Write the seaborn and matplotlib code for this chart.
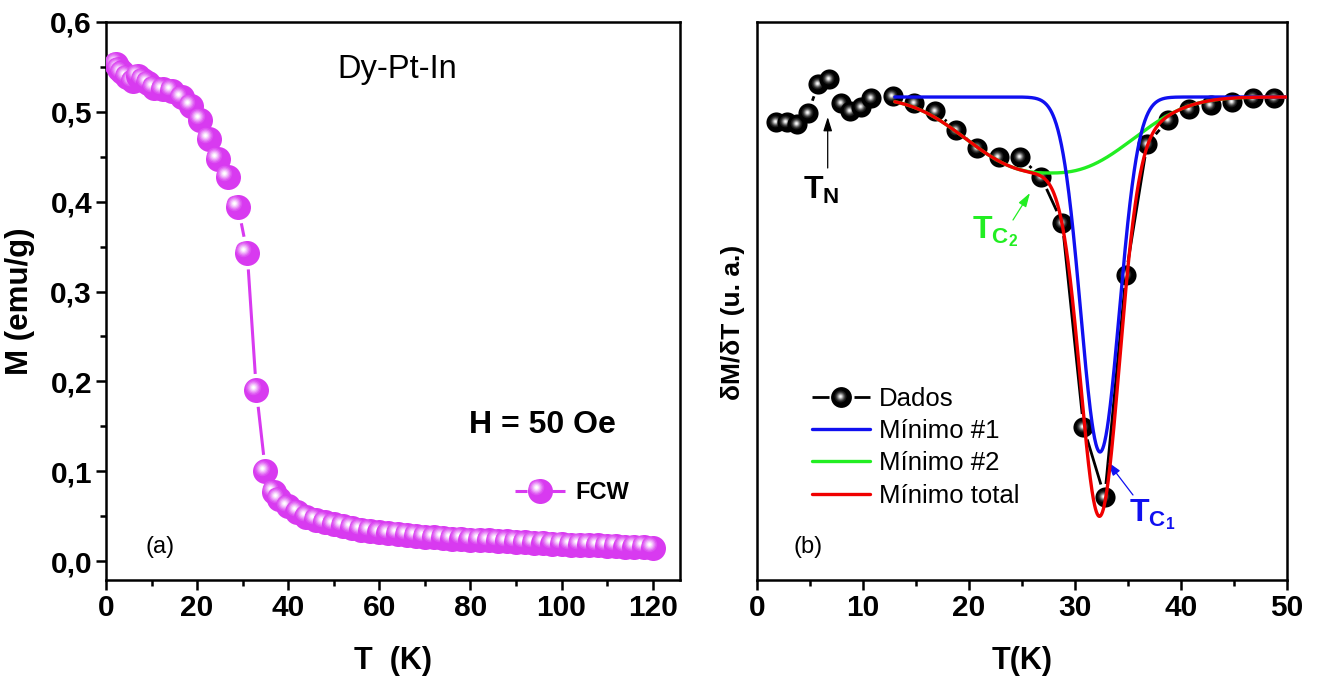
import numpy as np
import matplotlib
matplotlib.use("Agg")
import matplotlib.pyplot as plt
import matplotlib.transforms as mtransforms
from matplotlib.lines import Line2D
from matplotlib.legend_handler import HandlerBase
from matplotlib.ticker import MultipleLocator, FuncFormatter, NullLocator
import seaborn as sns

# ---------------------------------------------------------------- data
# (a) field-cooled-warming magnetisation, H = 50 Oe
T_fcw = [2.3, 2.8, 3.5, 4.5, 5.9, 7.0, 8.1, 9.2, 10.5, 12.5, 14.5, 16.6, 18.6,
         20.7, 22.6, 24.6, 26.7, 29.0, 31.0, 33.0, 35.0, 36.8, 38, 40, 42, 44,
         46, 48, 50, 52, 54, 56, 58, 60, 62, 64, 66, 68, 70, 72, 74, 76, 78,
         80, 82, 84, 86, 88, 90, 92, 94, 96, 98, 100, 102, 104, 106, 108, 110,
         112, 114, 116, 118, 120]
M_fcw = [0.553, 0.548, 0.544, 0.539, 0.534, 0.540, 0.536, 0.532, 0.527, 0.525,
         0.523, 0.516, 0.507, 0.491, 0.470, 0.448, 0.428, 0.394, 0.343, 0.190,
         0.100, 0.077, 0.069, 0.061, 0.055, 0.049, 0.046, 0.043, 0.041, 0.039,
         0.037, 0.035, 0.0335, 0.032, 0.031, 0.030, 0.029, 0.028, 0.027,
         0.0265, 0.026, 0.025, 0.0245, 0.024, 0.0235, 0.023, 0.0225, 0.022,
         0.0215, 0.021, 0.0205, 0.020, 0.0195, 0.019, 0.0185, 0.018, 0.0178,
         0.0175, 0.017, 0.0166, 0.0162, 0.016, 0.0155, 0.0145]

# (b) derivative dM/dT (arbitrary units)
T_der = [1.8, 2.8, 3.8, 4.8, 5.8, 6.8, 7.9, 8.8, 9.8, 10.8, 12.8, 14.8, 16.8,
         18.8, 20.8, 22.8, 24.8, 26.8, 28.8, 30.8, 32.8, 34.8, 36.8, 38.8,
         40.8, 42.8, 44.8, 46.8, 48.8]
dMdT = [-0.25, -0.25, -0.27, -0.16, 0.13, 0.18, -0.06, -0.14, -0.10, -0.01,
        0.01, -0.06, -0.14, -0.33, -0.51, -0.60, -0.60, -0.80, -1.26, -3.30,
        -4.00, -1.78, -0.47, -0.23, -0.12, -0.08, -0.05, -0.01, -0.01]

# two-minimum fit: Gaussian (#1) + broad minimum (#2)
fit_range = (13.0, 50.0)
base_level = 0.0
min1 = dict(depth=3.55, centre=32.36, sigma=1.82)
min2 = dict(depth=0.76, centre=27.6, width=9.7, power=2.5)

# ---------------------------------------------------------------- style
sns.set_theme(style="ticks")
plt.rcParams.update({
    "font.family": ["Liberation Sans", "DejaVu Sans"],
    "font.weight": "bold",
    "mathtext.fontset": "custom",
    "mathtext.rm": "Liberation Sans",
    "mathtext.it": "Liberation Sans:italic",
    "mathtext.bf": "Liberation Sans:bold",
    "axes.edgecolor": "black",
    "axes.linewidth": 1.8,
    "xtick.color": "black",
    "ytick.color": "black",
    "text.color": "black",
    "axes.labelcolor": "black",
})

MAGENTA = "#D83AF0"
BLUE = "#1010F0"
GREEN = "#22EE22"
RED = "#F00000"


def mix(c, t):
    r, g, b = matplotlib.colors.to_rgb(c)
    return (r + (1 - r) * t, g + (1 - g) * t, b + (1 - b) * t)


# shading layers: (size fraction, colour, dx, dy) with offsets in radius units
MAG_LAYERS = [(0.62, mix(MAGENTA, 0.12), -0.30, 0.30),
              (0.50, mix(MAGENTA, 0.30), -0.30, 0.30),
              (0.40, mix(MAGENTA, 0.50), -0.30, 0.30),
              (0.30, mix(MAGENTA, 0.70), -0.30, 0.30),
              (0.20, mix(MAGENTA, 0.88), -0.30, 0.30),
              (0.11, "#ffffff", -0.30, 0.30)]
BLACK_LAYERS = [(0.58, "#1c1c1c", -0.12, 0.12),
                (0.46, "#3c3c3c", -0.12, 0.12),
                (0.37, "#666666", -0.12, 0.12),
                (0.28, "#999999", -0.12, 0.12),
                (0.19, "#cfcfcf", -0.12, 0.12),
                (0.10, "#f8f8f8", -0.12, 0.12)]


def draw_spheres(ax, xs, ys, size, base, layers, z0):
    fig = ax.figure
    r = size / 2.0
    for i, (x, y) in enumerate(zip(xs, ys)):
        z = z0 + i * 1e-3
        ax.plot([x], [y], "o", ms=size, color=base, mec="none", zorder=z)
        for k, (frac, col, dx, dy) in enumerate(layers):
            tr = mtransforms.offset_copy(ax.transData, fig=fig, x=dx * r,
                                         y=dy * r, units="points")
            ax.plot([x], [y], "o", ms=size * frac, color=col, mec="none",
                    transform=tr, zorder=z + (k + 1) * 1e-5)


def gapped_line(ax, xs, ys, gap_px, color, lw, z):
    pts = ax.transData.transform(np.column_stack([xs, ys]))
    inv = ax.transData.inverted()
    for p0, p1 in zip(pts[:-1], pts[1:]):
        d = p1 - p0
        length = np.hypot(*d)
        if length <= 2 * gap_px + 1:
            continue
        u = d / length
        a = inv.transform(p0 + u * gap_px)
        b = inv.transform(p1 - u * gap_px)
        ax.plot([a[0], b[0]], [a[1], b[1]], color=color, lw=lw,
                solid_capstyle="butt", zorder=z)


class SphereHandler(HandlerBase):
    def __init__(self, base, layers, size, lw, gap):
        super().__init__()
        self.base, self.layers, self.size = base, layers, size
        self.lw, self.gap = lw, gap

    def create_artists(self, legend, orig_handle, xdescent, ydescent,
                       width, height, fontsize, trans):
        y = height / 2.0 - ydescent
        x0 = -xdescent
        x1 = x0 + width
        xm = (x0 + x1) / 2.0
        r = self.size / 2.0
        arts = []
        for a, b in ((x0, xm - r - self.gap), (xm + r + self.gap, x1)):
            ln = Line2D([a, b], [y, y], color=self.base, lw=self.lw,
                        solid_capstyle="butt")
            ln.set_transform(trans)
            arts.append(ln)
        m = Line2D([xm], [y], ls="none", marker="o", ms=self.size,
                   color=self.base, mec="none")
        m.set_transform(trans)
        arts.append(m)
        for frac, col, dx, dy in self.layers:
            h = Line2D([xm + dx * r], [y + dy * r], ls="none", marker="o",
                       ms=self.size * frac, color=col, mec="none")
            h.set_transform(trans)
            arts.append(h)
        return arts


def style_axis(ax):
    for s in ax.spines.values():
        s.set_linewidth(1.8)
        s.set_color("black")
    ax.tick_params(which="major", direction="out", length=7.5, width=1.8,
                   labelsize=21.5, pad=2.5, top=False, right=False)
    ax.tick_params(which="minor", direction="out", length=4, width=1.8,
                   top=False, right=False)


comma = FuncFormatter(lambda v, p: f"{v:.1f}".replace(".", ","))

# ---------------------------------------------------------------- figure
fig = plt.figure(figsize=(13.17, 6.78), dpi=100)
W, H = 1317.0, 678.0
ax1 = fig.add_axes([106 / W, 98 / H, 574 / W, 558 / H])
ax2 = fig.add_axes([757 / W, 98 / H, 530 / W, 558 / H])

# ---------------- (a) magnetisation
ax1.set_xlim(0, 126)
ax1.set_ylim(-0.021, 0.6)
style_axis(ax1)
ax1.xaxis.set_major_locator(MultipleLocator(20))
ax1.xaxis.set_minor_locator(MultipleLocator(10))
ax1.yaxis.set_major_locator(MultipleLocator(0.1))
ax1.yaxis.set_minor_locator(MultipleLocator(0.05))
ax1.yaxis.set_major_formatter(comma)
ax1.set_xlabel("T  (K)", fontsize=22, fontweight="bold")
ax1.set_ylabel("M (emu/g)", fontsize=22.5, fontweight="bold")
ax1.xaxis.set_label_coords(0.5, -0.118)
ax1.yaxis.set_label_coords(-0.124, 0.5)

MS_A = 18
gapped_line(ax1, T_fcw, M_fcw, MS_A * 100 / 72 / 2 + 4, MAGENTA, 2.2, 2)
draw_spheres(ax1, T_fcw, M_fcw, MS_A, MAGENTA, MAG_LAYERS, 3)

ax1.text(0.507, 0.914, "Dy-Pt-In", transform=ax1.transAxes, fontsize=23.5,
         fontweight="normal", ha="center", va="center")
ax1.text(0.761, 0.278, "H = 50 Oe", transform=ax1.transAxes, fontsize=23,
         fontweight="bold", ha="center", va="center")
ax1.text(0.094, 0.059, "(a)", transform=ax1.transAxes, fontsize=17,
         fontweight="normal", ha="center", va="center")

fcw_handle = Line2D([], [], color=MAGENTA)
ax1.legend([fcw_handle], ["FCW"],
           handler_map={fcw_handle: SphereHandler(MAGENTA, MAG_LAYERS, MS_A, 2.2, 0)},
           loc="center left", bbox_to_anchor=(0.7125, 0.156), frameon=False,
           borderpad=0, borderaxespad=0, handlelength=2.1, handletextpad=0.45,
           prop={"weight": "bold", "size": 17})

# ---------------- (b) derivative with two-minimum fit
ax2.set_xlim(0, 50)
ax2.set_ylim(-4.83, 0.75)
style_axis(ax2)
ax2.xaxis.set_major_locator(MultipleLocator(10))
ax2.xaxis.set_minor_locator(MultipleLocator(5))
ax2.yaxis.set_major_locator(NullLocator())
ax2.yaxis.set_minor_locator(NullLocator())
ax2.set_xlabel("T(K)", fontsize=22, fontweight="bold")
ax2.set_ylabel("δM/δT (u. a.)", fontsize=19, fontweight="bold")
ax2.xaxis.set_label_coords(0.5, -0.118)
ax2.yaxis.set_label_coords(-0.022, 0.462)

MS_B = 14.5
gapped_line(ax2, T_der, dMdT, MS_B * 100 / 72 / 2 + 3, "black", 2.0, 2)
draw_spheres(ax2, T_der, dMdT, MS_B, "black", BLACK_LAYERS, 3)

T_fit = np.linspace(fit_range[0], fit_range[1], 900)
g1 = min1["depth"] * np.exp(-(T_fit - min1["centre"]) ** 2 / (2 * min1["sigma"] ** 2))
g2 = min2["depth"] * np.exp(-(np.abs(T_fit - min2["centre"]) / min2["width"]) ** min2["power"])
curve1 = base_level - g1
curve2 = base_level - g2
curve_tot = base_level - g1 - g2

sns.lineplot(x=T_fit, y=curve2, ax=ax2, color=GREEN, lw=2.4, estimator=None,
             sort=False, zorder=5)
sns.lineplot(x=T_fit, y=curve1, ax=ax2, color=BLUE, lw=2.4, estimator=None,
             sort=False, zorder=6)
sns.lineplot(x=T_fit, y=curve_tot, ax=ax2, color=RED, lw=2.4, estimator=None,
             sort=False, zorder=7)
ax2.set_xlim(0, 50)
ax2.set_ylim(-4.83, 0.75)

ax2.text(0.096, 0.059, "(b)", transform=ax2.transAxes, fontsize=17,
         fontweight="normal", ha="center", va="center")

# transition markers
ax2.annotate("", xy=(6.67, -0.20), xytext=(6.67, -0.71),
             arrowprops=dict(arrowstyle="-|>,head_length=0.7,head_width=0.22",
                             color="black", lw=0.9, shrinkA=0, shrinkB=0))
ax2.text(6.1, -0.93, r"$\mathbf{T}_{\mathbf{N}}$", fontsize=23,
         ha="center", va="center", color="black")
ax2.annotate("", xy=(25.75, -0.96), xytext=(24.15, -1.23),
             arrowprops=dict(arrowstyle="-|>,head_length=0.7,head_width=0.22",
                             color=GREEN, lw=0.9, shrinkA=0, shrinkB=0))
ax2.text(22.45, -1.35, r"$\mathbf{T}_{\mathbf{C}_{\mathbf{2}}}$", fontsize=23,
         ha="center", va="center", color=GREEN)
ax2.annotate("", xy=(33.1, -3.65), xytext=(35.47, -3.98),
             arrowprops=dict(arrowstyle="-|>,head_length=0.7,head_width=0.22",
                             color=BLUE, lw=0.9, shrinkA=0, shrinkB=0))
ax2.text(37.3, -4.18, r"$\mathbf{T}_{\mathbf{C}_{\mathbf{1}}}$", fontsize=23,
         ha="center", va="center", color=BLUE)

dados_handle = Line2D([], [], color="black")
h1 = Line2D([], [], color=BLUE, lw=2.4)
h2 = Line2D([], [], color=GREEN, lw=2.4)
h3 = Line2D([], [], color=RED, lw=2.4)
ax2.legend([dados_handle, h1, h2, h3],
           ["Dados", "Mínimo #1", "Mínimo #2", "Mínimo total"],
           handler_map={dados_handle: SphereHandler("black", BLACK_LAYERS, 15, 2.0, 1.5)},
           loc="upper left", bbox_to_anchor=(0.104, 0.346), frameon=False,
           borderpad=0, borderaxespad=0, handlelength=2.25, handletextpad=0.35,
           labelspacing=0.32, prop={"weight": "normal", "size": 18.5})

fig.savefig("out.png", dpi=100)
